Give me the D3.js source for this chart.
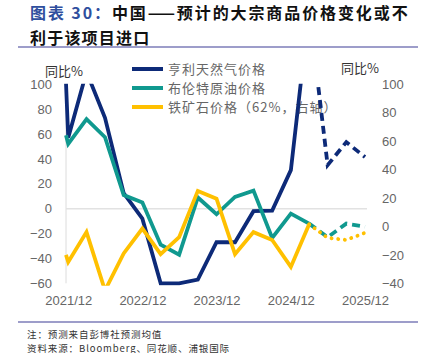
<!DOCTYPE html>
<html>
<head>
<meta charset="utf-8">
<script src="https://cdn.jsdelivr.net/npm/d3@7"></script>
<style>
  body { margin: 0; background: #fff; }
  svg { display: block; }
</style>
</head>
<body>
<div id="chart"></div>
<script>
// Data: quarter ends, the first point sits a few days before 2021/12
const dates = ["2021-12-20", "2021-12-31", "2022-03-31", "2022-06-30", "2022-09-30",
  "2022-12-31", "2023-03-31", "2023-06-30", "2023-09-30", "2023-12-31",
  "2024-03-31", "2024-06-30", "2024-09-30", "2024-12-31", "2025-03-31"];
const forecastDates = ["2025-03-31", "2025-06-30", "2025-09-30", "2025-12-31"];

const henryHub = [101, 57, 110, 73, 12.5, -8, -60, -60, -57, -27, -27, -2, -1.5, 31, 160];
const brent = [59, 52, 72, 57.5, 11, 5, -29, -37, 9, -4.5, 9.5, 14.5, -23.5, -4, -12];
const ironOre = [-20, -25, -4, -45, -19, -1.5, -19.5, -7.5, 25, 19.5, -19.5, -4, -9.5, -28.5, 1.5];

const henryHubForecast = [160, 35, 53.5, 41.5];
const brentForecast = [-12, -23, -12, -14.5];
const ironOreForecast = [1.5, -8, -9.5, -4.5];

const tickDates = ["2021-12-31", "2022-12-31", "2023-12-31", "2024-12-31", "2025-12-31"];
const tickLabels = ["2021/12", "2022/12", "2023/12", "2024/12", "2025/12"];
const leftTicks = [-60, -40, -20, 0, 20, 40, 60, 80, 100];
const rightTicks = [-40, -20, 0, 20, 40, 60, 80, 100];
const legendNames = ["亨利天然气价格", "布伦特原油价格", "铁矿石价格（62%，右轴）"];

// Layout
const width = 429, height = 353;
const plot = {left: 66, right: 365, top: 84.3, bottom: 283.3};
const colors = ["#0d2a78", "#10998f", "#ffc000"];
const cjk = "'Noto Sans CJK SC', 'Noto Sans', sans-serif";
const latin = "'Liberation Sans', Arial, sans-serif";

const parse = d3.timeParse("%Y-%m-%d");

const svg = d3.select("#chart").append("svg")
  .attr("width", width)
  .attr("height", height);

// Title
const title = svg.append("text")
  .attr("x", 30)
  .attr("y", 19)
  .attr("font-family", cjk)
  .attr("font-size", 16)
  .attr("font-weight", "bold")
  .attr("letter-spacing", 1.9);
title.append("tspan").attr("fill", "#2f4f9e").text("图表 30：");
title.append("tspan").attr("fill", "#111").text("中国——预计的大宗商品价格变化或不");
svg.append("text")
  .attr("x", 30)
  .attr("y", 44)
  .attr("font-family", cjk)
  .attr("font-size", 16)
  .attr("font-weight", "bold")
  .attr("letter-spacing", 1.2)
  .attr("fill", "#111")
  .text("利于该项目进口");

// Separator lines
[47, 322].forEach(y => {
  svg.append("line")
    .attr("x1", 18).attr("x2", 418)
    .attr("y1", y).attr("y2", y)
    .attr("stroke", "#7d7db8")
    .attr("stroke-width", 1.5);
});

// Scales
const x = d3.scaleTime()
  .domain([parse(dates[0]), parse(forecastDates[forecastDates.length - 1])])
  .range([plot.left, plot.right]);
const yLeft = d3.scaleLinear().domain([-60, 100]).range([plot.bottom, plot.top]);
const yRight = d3.scaleLinear().domain([-40, 100]).range([plot.bottom, plot.top]);

// Axes
const leftAxis = svg.append("g")
  .attr("transform", `translate(${plot.left - 14},0)`)
  .call(d3.axisLeft(yLeft).tickValues(leftTicks).tickSize(0).tickPadding(0));
const rightAxis = svg.append("g")
  .attr("transform", `translate(${plot.right + 17},0)`)
  .call(d3.axisRight(yRight).tickValues(rightTicks).tickSize(0).tickPadding(0));
const bottomAxis = svg.append("g")
  .attr("transform", `translate(0,${plot.bottom + 12})`)
  .call(d3.axisBottom(x).tickValues(tickDates.map(parse))
    .tickFormat((d, i) => tickLabels[i]).tickSize(0).tickPadding(0));

[leftAxis, rightAxis, bottomAxis].forEach(g => {
  g.select(".domain").remove();
  g.selectAll("text")
    .attr("font-family", latin)
    .attr("font-size", 13)
    .attr("fill", "#666");
});
bottomAxis.selectAll("text").attr("dy", "0.75em");

// Axis line and zero line
svg.append("line")
  .attr("x1", plot.left).attr("x2", plot.left)
  .attr("y1", plot.top).attr("y2", plot.bottom)
  .attr("stroke", "#dcdcdc");
svg.append("line")
  .attr("x1", plot.left).attr("x2", plot.right + 2)
  .attr("y1", yLeft(0)).attr("y2", yLeft(0))
  .attr("stroke", "#e2e2e2")
  .attr("stroke-width", 1.5);

// Unit labels
svg.append("text")
  .attr("x", 45).attr("y", 75.5)
  .attr("font-family", cjk).attr("font-size", 13).attr("fill", "#333")
  .text("同比%");
svg.append("text")
  .attr("x", 341).attr("y", 72.5)
  .attr("font-family", cjk).attr("font-size", 13).attr("fill", "#333")
  .text("同比%");

// Legend
const legend = svg.append("g").attr("transform", "translate(132,69)");
legendNames.forEach((name, i) => {
  const row = legend.append("g").attr("transform", `translate(0,${i * 19})`);
  row.append("line")
    .attr("x1", 0).attr("x2", 31)
    .attr("stroke", colors[i])
    .attr("stroke-width", 4);
  row.append("text")
    .attr("x", 36).attr("y", 4.5)
    .attr("font-family", cjk)
    .attr("font-size", 13)
    .attr("letter-spacing", 1)
    .attr("fill", "#666")
    .text(name);
});

// Clip for the plot area
svg.append("defs").append("clipPath")
  .attr("id", "plot-clip")
  .append("rect")
    .attr("x", 0).attr("y", plot.top - 0.5)
    .attr("width", width).attr("height", plot.bottom - plot.top + 3);

const lines = svg.append("g").attr("clip-path", "url(#plot-clip)");

const series = [
  {values: henryHub, forecast: henryHubForecast, y: yLeft, color: colors[0], dash: "8,5", cap: "butt"},
  {values: brent, forecast: brentForecast, y: yLeft, color: colors[1], dash: "8,5", cap: "butt"},
  {values: ironOre, forecast: ironOreForecast, y: yRight, color: colors[2], dash: "0.1,6.6", cap: "round"}
];

series.forEach(s => {
  const line = d3.line()
    .x(d => x(d.date))
    .y(d => s.y(d.value));

  lines.append("path")
    .datum(dates.map((d, i) => ({date: parse(d), value: s.values[i]})))
    .attr("d", line)
    .attr("fill", "none")
    .attr("stroke", s.color)
    .attr("stroke-width", 3.8)
    .attr("stroke-linejoin", "miter");

  lines.append("path")
    .datum(forecastDates.map((d, i) => ({date: parse(d), value: s.forecast[i]})))
    .attr("d", line)
    .attr("fill", "none")
    .attr("stroke", s.color)
    .attr("stroke-width", 3.8)
    .attr("stroke-dasharray", s.dash)
    .attr("stroke-linecap", s.cap);
});

// Notes
svg.append("text")
  .attr("x", 27).attr("y", 337.5)
  .attr("font-family", cjk).attr("font-size", 9.5)
  .attr("letter-spacing", 0.9).attr("fill", "#333")
  .text("注：预测来自彭博社预测均值");
svg.append("text")
  .attr("x", 27).attr("y", 351.5)
  .attr("font-family", cjk).attr("font-size", 9.5)
  .attr("letter-spacing", 0.9).attr("fill", "#333")
  .text("资料来源：Bloomberg、同花顺、浦银国际");
</script>
</body>
</html>
